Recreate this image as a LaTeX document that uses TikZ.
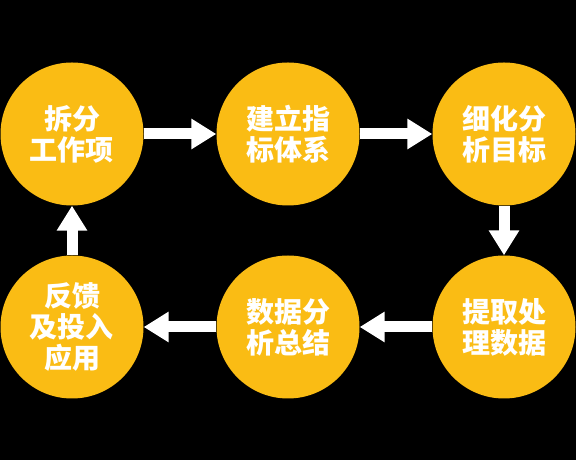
\documentclass[tikz,border=0pt]{standalone}
\usepackage{fontspec}
\newfontfamily\cjk{Noto Sans CJK SC}
\usetikzlibrary{arrows.meta}
\definecolor{stepgold}{RGB}{250,188,20}

\begin{document}
\begin{tikzpicture}[x = 1pt, y = 1pt,
  stage/.style = {circle, fill = stepgold, inner sep = 0pt, minimum size = 143pt,
    text = white, align = center, font = \cjk\bfseries\fontsize{28}{31}\selectfont},
  flow/.style = {white, line width = 11pt, -{Triangle[length = 25pt, width = 29pt]}}]
\fill[black] (0, 0) rectangle (576, 460);
\useasboundingbox (0, 0) rectangle (576, 460);

\node[stage] (split) at (72, 326) {拆分\\工作项};
\node[stage] (index) at (288, 326) {建立指\\标体系};
\node[stage] (goal) at (504, 326) {细化分\\析目标};
\node[stage] (data) at (504, 133) {提取处\\理数据};
\node[stage] (sum) at (288, 133) {数据分\\析总结};
\node[stage] (feed) at (72, 133) {反馈\\及投入\\应用};

\draw[flow] (split) -- (index);
\draw[flow] (index) -- (goal);
\draw[flow] (goal) -- (data);
\draw[flow] (data) -- (sum);
\draw[flow] (sum) -- (feed);
\draw[flow] (feed) -- (split);

\end{tikzpicture}
\end{document}
